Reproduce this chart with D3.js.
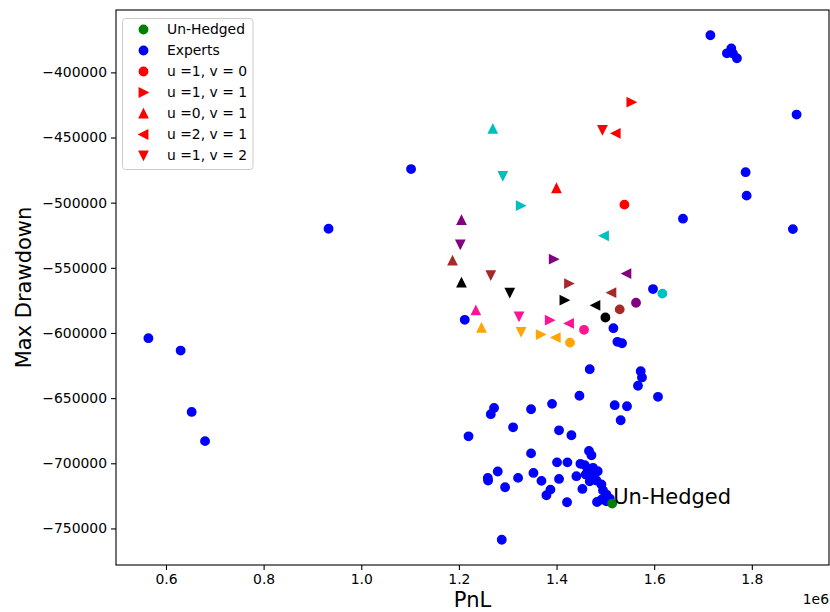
<!DOCTYPE html>
<html><head><meta charset="utf-8">
<script src="https://cdn.jsdelivr.net/npm/d3@7"></script>
<style>
html,body{margin:0;padding:0;background:#fff;}
svg{display:block;font-family:"DejaVu Sans",sans-serif;}
</style></head>
<body><svg id="chart" width="830" height="612"></svg>
<script>
// ---- data ----
const unhedgedPnL = [1514000];
const unhedgedDD = [-730900];

const expertsPnL = [564000,630000,652600,680000,933000,1102000,1212000,1219700,1272000,1265300,
  1311000,1259200,1259800,1279600,1294600,1287800,1321200,1347800,1347800,1352700,
  1369100,1379300,1387500,1390800,1401000,1422300,1405100,1405100,1430500,1421500,
  1446900,1453000,1440700,1466500,1471500,1468000,1516500,1524700,1534100,1519100,
  1544300,1531400,1572400,1575000,1566800,1607800,1597600,1659000,1715100,1758000,
  1749000,1761300,1769500,1891700,1787300,1789400,1884100,
  1448900,1457700,1474700,1459800,1474700,1481700,1468000,1491900,1495200,1502200,
  1508900,1491900,1482900,1502200,1484300,1463900];
const expertsDD = [-604000,-613500,-660600,-683000,-520000,-474200,-589900,-679300,-657500,-662300,
  -672400,-711200,-713200,-706300,-718400,-758700,-711200,-658500,-692400,-707400,
  -713500,-724500,-720200,-654400,-699300,-699300,-674700,-712000,-678500,-729900,
  -648200,-719700,-709900,-690600,-693900,-627800,-596300,-606800,-607900,-655400,
  -656200,-667000,-629300,-634100,-640500,-649000,-566300,-512300,-371500,-381700,
  -385400,-385600,-389200,-432400,-476600,-494600,-520300,
  -700400,-701400,-703500,-708600,-708600,-713200,-713800,-716300,-720900,-724000,
  -727100,-727900,-729700,-729200,-706100,-704500];

// one entry per colour group
const groupColors = ["#ff0000","#00bfbf","#800080","#a52a2a","#000000","#ff1493","#ffa500"];

const seriesLabels = ["u =1, v = 0","u =1, v = 1","u =0, v = 1","u =2, v = 1","u =1, v = 2"];
const seriesShapes = ["circle","right","up","left","down"];

const u1v0PnL = [1539000,1616800,1562800,1529400,1500100,1456300,1427600];
const u1v0DD  = [-501500,-569800,-576800,-581900,-588100,-597600,-607400];
const u1v1PnL = [1553300,1326700,1394300,1425600,1416200,1386100,1367700];
const u1v1DD  = [-422900,-502300,-543400,-562100,-574800,-590200,-601200];
const u0v1PnL = [1399800,1269400,1205300,1186900,1205300,1234600,1246300];
const u0v1DD  = [-488900,-443400,-513300,-544500,-561300,-582700,-596000];
const u2v1PnL = [1521200,1497200,1543100,1512400,1479600,1425600,1398400];
const u2v1DD  = [-446800,-525400,-554400,-569100,-578800,-592700,-603500];
const u1v2PnL = [1494000,1289900,1202900,1265300,1304200,1323200,1327300];
const u1v2DD  = [-444200,-479400,-532100,-555700,-569100,-587300,-599100];

const xTicks = [600000,800000,1000000,1200000,1400000,1600000,1800000];
const yTicks = [-750000,-700000,-650000,-600000,-550000,-500000,-450000,-400000];

// ---- layout ----
const svg = d3.select("#chart");
const L=116, T=10, R=829, B=565;

const allX = [...expertsPnL, ...unhedgedPnL, ...u1v0PnL, ...u1v1PnL, ...u0v1PnL, ...u2v1PnL, ...u1v2PnL];
const allY = [...expertsDD, ...unhedgedDD, ...u1v0DD, ...u1v1DD, ...u0v1DD, ...u2v1DD, ...u1v2DD];
const [x0,x1] = d3.extent(allX), [y0,y1] = d3.extent(allY);
const mx=(x1-x0)*0.05, my=(y1-y0)*0.05;
const x = d3.scaleLinear().domain([x0-mx, x1+mx]).range([L,R]);
const y = d3.scaleLinear().domain([y0-my, y1+my]).range([B,T]);

const r = 4.17, sw = 1.5;
function shapePath(shape){
  switch(shape){
    case "up": return `M0,${-r}L${-r},${r}L${r},${r}Z`;
    case "down": return `M0,${r}L${-r},${-r}L${r},${-r}Z`;
    case "left": return `M${-r},0L${r},${-r}L${r},${r}Z`;
    case "right": return `M${r},0L${-r},${-r}L${-r},${r}Z`;
  }
}
function drawMarker(g, shape, color, cx, cy){
  if(shape==="circle"){
    g.append("circle").attr("cx",cx).attr("cy",cy).attr("r",r)
      .attr("fill",color).attr("stroke",color).attr("stroke-width",sw);
  } else {
    g.append("path").attr("d",shapePath(shape)).attr("transform",`translate(${cx},${cy})`)
      .attr("fill",color).attr("stroke",color).attr("stroke-width",sw).attr("stroke-linejoin","miter");
  }
}

// axes
const xAxis = d3.axisBottom(x).tickValues(xTicks).tickSize(5).tickPadding(4)
  .tickFormat(d => (d/1e6).toFixed(1));
const yAxis = d3.axisLeft(y).tickValues(yTicks).tickSize(5).tickPadding(4)
  .tickFormat(d3.format("d"));
const gx = svg.append("g").attr("transform",`translate(0,${B})`).call(xAxis);
const gy = svg.append("g").attr("transform",`translate(${L},0)`).call(yAxis);
[gx,gy].forEach(g=>{
  g.select(".domain").remove();
  g.selectAll("text").attr("font-family","DejaVu Sans").attr("font-size","13.9px").attr("fill","#000");
  g.selectAll("line").attr("stroke","#000").attr("stroke-width",1.1);
});

const plot = svg.append("g");
// experts
expertsPnL.forEach((v,i)=>drawMarker(plot,"circle","#0000ff",x(v),y(expertsDD[i])));
// colour groups
const seriesData = [[u1v0PnL,u1v0DD],[u1v1PnL,u1v1DD],[u0v1PnL,u0v1DD],[u2v1PnL,u2v1DD],[u1v2PnL,u1v2DD]];
groupColors.forEach((c,gi)=>{
  seriesData.forEach((s,si)=>{
    drawMarker(plot, seriesShapes[si], c, x(s[0][gi]), y(s[1][gi]));
  });
});
// un-hedged
unhedgedPnL.forEach((v,i)=>drawMarker(plot,"circle","#008000",x(v),y(unhedgedDD[i])));
svg.append("text").attr("x",x(unhedgedPnL[0])+1).attr("y",y(unhedgedDD[0]))
  .attr("font-size","21px").attr("fill","#000").text("Un-Hedged");

// frame
svg.append("rect").attr("x",L).attr("y",T).attr("width",R-L).attr("height",B-T)
  .attr("fill","none").attr("stroke","#000").attr("stroke-width",1.1);

// axis labels
svg.append("text").attr("x",(L+R)/2).attr("y",607).attr("text-anchor","middle")
  .attr("font-size","21px").attr("fill","#000").text("PnL");
svg.append("text").attr("transform",`translate(31,${(T+B)/2}) rotate(-90)`).attr("text-anchor","middle")
  .attr("font-size","21px").attr("fill","#000").text("Max Drawdown");
svg.append("text").attr("x",R).attr("y",604).attr("text-anchor","end")
  .attr("font-size","13.9px").attr("fill","#000").text("1e6");

// legend
const lg = svg.append("g");
lg.append("rect").attr("x",122.5).attr("y",18.5).attr("width",130.5).attr("height",151)
  .attr("rx",3).attr("fill","#fff").attr("fill-opacity",0.8).attr("stroke","#cccccc").attr("stroke-width",1);
const legendItems = [{label:"Un-Hedged",shape:"circle",color:"#008000"},{label:"Experts",shape:"circle",color:"#0000ff"}]
  .concat(seriesLabels.map((l,i)=>({label:l,shape:seriesShapes[i],color:groupColors[0]})));
legendItems.forEach((it,i)=>{
  const cy = 29.5 + i*21;
  drawMarker(lg, it.shape, it.color, 143.5, cy);
  lg.append("text").attr("x",167).attr("y",cy).attr("dy","0.35em")
    .attr("font-size","13.9px").attr("fill","#000").text(it.label);
});
</script></body></html>
